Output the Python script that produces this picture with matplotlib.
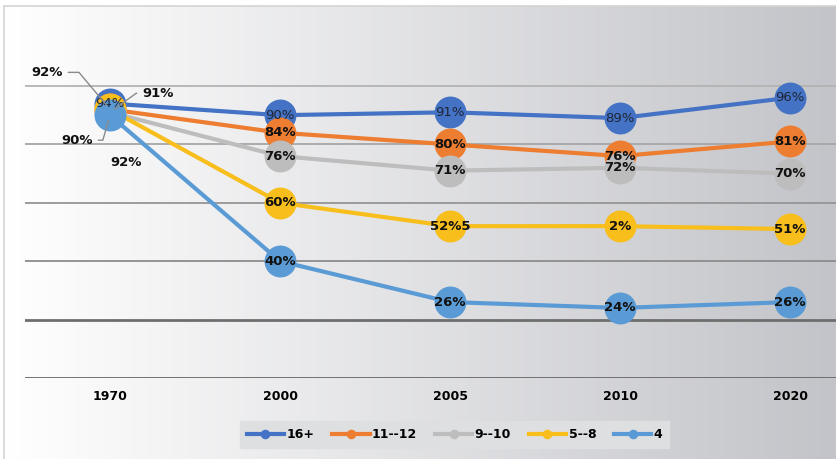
import numpy as np
import matplotlib
matplotlib.use("Agg")
import matplotlib.pyplot as plt

# Data
years = ["1970", "2000", "2005", "2010", "2020"]
series_names = ["16+", "11--12", "9--10", "5--8", "4"]
grade_16 = [94, 90, 91, 89, 96]
grade_11_12 = [92, 84, 80, 76, 81]
grade_9_10 = [91, 76, 71, 72, 70]
grade_5_8 = [92, 60, 52, 52, 51]
grade_4 = [90, 40, 26, 24, 26]
# the 5--8 labels are displayed garbled in the original, keep them as shown
labels_5_8 = ["92%", "60%", "52%5", "2%", "51%"]

series = [grade_16, grade_11_12, grade_9_10, grade_5_8, grade_4]
colors = ["#4472c4", "#ed7d31", "#bdbdbd", "#f7be1c", "#5b9bd5"]

W, H = 836, 459
fig = plt.figure(figsize=(W / 100, H / 100), dpi=100)

# gradient background of the chart area
bg = fig.add_axes([0, 0, 1, 1], zorder=-2)
bg.set_xlim(0, W)
bg.set_ylim(H, 0)
bg.axis("off")
grad = np.linspace(0, 1, 256)[None, :, None]
c0 = np.array([255, 255, 255]) / 255
c1 = np.array([195, 196, 201]) / 255
img = c0 + (c1 - c0) * grad
bg.imshow(img, extent=[4, W, H, 6], aspect="auto")
bg.plot([4, W], [6, 6], color="#d4d4d4", lw=1.2)
bg.plot([4, 4], [6, H], color="#d4d4d4", lw=1.2)

# plot area: 25px left edge, categories 170px apart, cropped on the right
ax = fig.add_axes([25 / W, 81 / H, 850 / W, 350.4 / H])
ax.set_facecolor("none")
ax.set_xlim(-0.5, 4.5)
ax.set_ylim(0, 120)
for s in ax.spines.values():
    s.set_visible(False)
ax.set_yticks([])
x = np.arange(len(years))
ax.set_xticks(x)
ax.set_xticklabels(years, fontsize=9, fontweight="bold")
ax.tick_params(axis="x", length=0, pad=9)

# horizontal gridlines, getting darker towards the bottom
grid_vals = [100, 80, 60, 40, 20, 0]
grid_cols = ["#b3b3b3", "#a6a6a6", "#959595", "#8c8c8c", "#6e6e6e", "#666666"]
grid_lw = [1.3, 1.3, 1.3, 1.3, 2, 2]
for g, c, w in zip(grid_vals, grid_cols, grid_lw):
    ax.axhline(g, color=c, lw=w, zorder=1)

for i, (vals, col, name) in enumerate(zip(series, colors, series_names)):
    ax.plot(x, vals, color=col, lw=3, marker="o", markersize=23,
            markeredgewidth=0, label=name, zorder=3 + i)

# data labels
offsets_1970 = {1: (-63, 37), 2: (48, 19), 3: (16, -53), 4: (-33, -25)}
leader_angle = {1: 130, 2: 36, 4: 74}
for i, vals in enumerate(series):
    labels = labels_5_8 if i == 3 else [f"{v}%" for v in vals]
    weight = "normal" if i == 0 else "bold"
    tcol = "#1f2636" if i == 0 else "#111111"
    for j, (v, lab) in enumerate(zip(vals, labels)):
        if j == 0 and i in offsets_1970:
            dx, dy = offsets_1970[i]
            arrow = None
            if i in leader_angle:
                arrow = dict(arrowstyle="-", color="#8a8a8a", lw=1,
                             shrinkA=2, shrinkB=4,
                             connectionstyle=f"angle,angleA=0,angleB={leader_angle[i]},rad=0")
            ax.annotate(lab, (x[j], v), xytext=(dx, dy), textcoords="offset pixels",
                        ha="center", va="center", fontsize=9.5, fontweight=weight,
                        color=tcol, arrowprops=arrow, zorder=20)
        else:
            ax.text(x[j], v, lab, ha="center", va="center", fontsize=9.5,
                    fontweight=weight, color=tcol, zorder=20)

leg = fig.legend(loc="center", bbox_to_anchor=(454.5 / W, 1 - 434.5 / H), ncol=5,
                 frameon=True, fancybox=False, handlelength=3, handletextpad=0.2,
                 columnspacing=1.4, borderpad=0.55, markerscale=0.3,
                 prop={"size": 9, "weight": "bold"})
leg.get_frame().set_facecolor("#dedfe1")
leg.get_frame().set_edgecolor("#dedfe1")
leg.get_frame().set_alpha(1)

fig.savefig("out.png", dpi=100)
